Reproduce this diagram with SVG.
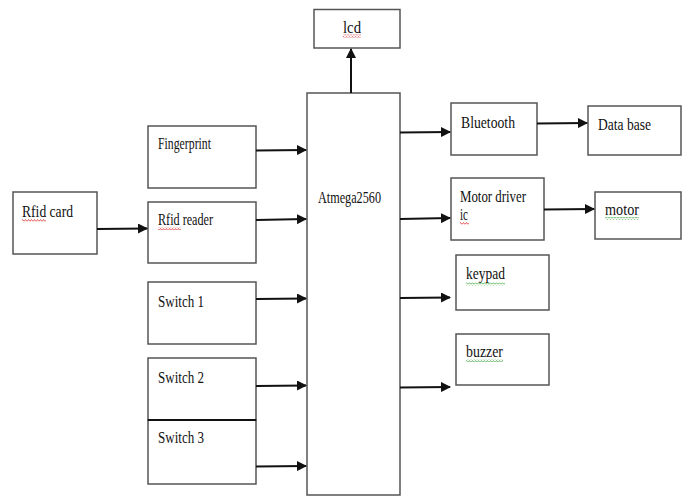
<svg xmlns="http://www.w3.org/2000/svg" width="688" height="496" viewBox="0 0 688 496">
<style>
.box{fill:#fff;stroke:#555;stroke-width:1.5}
.t{font-family:"Liberation Serif","Times New Roman",serif;font-size:17px;fill:#111}
.c{stroke:#111;stroke-width:2;fill:none;marker-end:url(#ah)}
.red{fill:url(#wr)}
.grn{fill:url(#wg)}
</style>
<defs>
<marker id="ah" viewBox="0 0 10 10" refX="9" refY="5" markerWidth="5" markerHeight="5" orient="auto" markerUnits="strokeWidth">
<path d="M0,0 L10,5 L0,10 z" fill="#111"/>
</marker>
<pattern id="wr" width="3" height="3" patternUnits="userSpaceOnUse">
<path d="M0,2.5 L1.5,0.5 L3,2.5" stroke="#d33" stroke-width="0.8" fill="none"/>
</pattern>
<pattern id="wg" width="3" height="3" patternUnits="userSpaceOnUse">
<path d="M0,2.5 L1.5,0.5 L3,2.5" stroke="#4a4" stroke-width="0.8" fill="none"/>
</pattern>
</defs>
<rect width="688" height="496" fill="#fff"/>

<g id="lcd"><rect class="box" x="314" y="9.5" width="86" height="38.5"/><text class="t" x="343" y="33" textLength="18" lengthAdjust="spacingAndGlyphs">lcd</text><rect class="red" x="343" y="34.5" width="18" height="3"/></g>
<g id="atmega"><rect class="box" x="307" y="93" width="93" height="402"/><text class="t" x="318" y="203" textLength="63" lengthAdjust="spacingAndGlyphs">Atmega2560</text></g>
<g id="fingerprint"><rect class="box" x="148" y="126" width="108" height="62"/><text class="t" x="158" y="149" textLength="53" lengthAdjust="spacingAndGlyphs">Fingerprint</text></g>
<g id="rfidcard"><rect class="box" x="13" y="192" width="84" height="62"/><text class="t" x="22" y="217" textLength="51" lengthAdjust="spacingAndGlyphs">Rfid card</text><rect class="red" x="22" y="219" width="24" height="3"/></g>
<g id="rfidreader"><rect class="box" x="148" y="202" width="108" height="61"/><text class="t" x="158" y="225" textLength="55" lengthAdjust="spacingAndGlyphs">Rfid reader</text><rect class="red" x="158" y="227" width="23" height="3"/></g>
<g id="switch1"><rect class="box" x="148" y="282" width="108" height="62"/><text class="t" x="158" y="307" textLength="46" lengthAdjust="spacingAndGlyphs">Switch 1</text></g>
<g id="switch2"><rect class="box" x="148" y="358" width="108" height="62"/><text class="t" x="158" y="383" textLength="46" lengthAdjust="spacingAndGlyphs">Switch 2</text></g>
<g id="switch3"><rect class="box" x="148" y="420" width="108" height="64"/><line x1="148" y1="420" x2="256" y2="420" stroke="#111" stroke-width="2"/><text class="t" x="158" y="443" textLength="46" lengthAdjust="spacingAndGlyphs">Switch 3</text></g>
<g id="bluetooth"><rect class="box" x="451" y="103" width="86" height="52"/><text class="t" x="461" y="128" textLength="54" lengthAdjust="spacingAndGlyphs">Bluetooth</text></g>
<g id="database"><rect class="box" x="588" y="106" width="93" height="49"/><text class="t" x="598" y="130" textLength="53" lengthAdjust="spacingAndGlyphs">Data base</text></g>
<g id="motordriver"><rect class="box" x="451" y="178" width="93" height="62"/><text class="t" x="460" y="202" textLength="66" lengthAdjust="spacingAndGlyphs">Motor driver</text><text class="t" x="460" y="220" textLength="8" lengthAdjust="spacingAndGlyphs">ic</text><rect class="red" x="460" y="222" width="9" height="3"/></g>
<g id="motor"><rect class="box" x="595" y="192" width="86" height="47"/><text class="t" x="605" y="215" textLength="34" lengthAdjust="spacingAndGlyphs">motor</text><rect class="grn" x="605" y="217" width="34" height="3"/></g>
<g id="keypad"><rect class="box" x="456" y="255" width="93" height="55"/><text class="t" x="466" y="279" textLength="39" lengthAdjust="spacingAndGlyphs">keypad</text><rect class="grn" x="466" y="282.5" width="39" height="3"/></g>
<g id="buzzer"><rect class="box" x="456" y="334" width="93" height="51"/><text class="t" x="466" y="357" textLength="37" lengthAdjust="spacingAndGlyphs">buzzer</text><rect class="grn" x="466" y="359" width="37" height="3"/></g>

<g id="connectors">
<line class="c" x1="351" y1="93" x2="351" y2="49"/>
<line class="c" x1="97" y1="229" x2="147" y2="228.5"/>
<line class="c" x1="256" y1="150.5" x2="306" y2="150"/>
<line class="c" x1="256" y1="220" x2="306" y2="219"/>
<line class="c" x1="256" y1="299" x2="306" y2="298.5"/>
<line class="c" x1="256" y1="386" x2="306" y2="385.5"/>
<line class="c" x1="256" y1="466.5" x2="306" y2="466"/>
<line class="c" x1="400" y1="132.5" x2="450" y2="132"/>
<line class="c" x1="537" y1="123.5" x2="587" y2="123"/>
<line class="c" x1="400" y1="219" x2="450" y2="218"/>
<line class="c" x1="544" y1="209.5" x2="594" y2="209"/>
<line class="c" x1="400" y1="298" x2="450" y2="297.5"/>
<line class="c" x1="400" y1="387.5" x2="450" y2="387"/>
</g>
</svg>
